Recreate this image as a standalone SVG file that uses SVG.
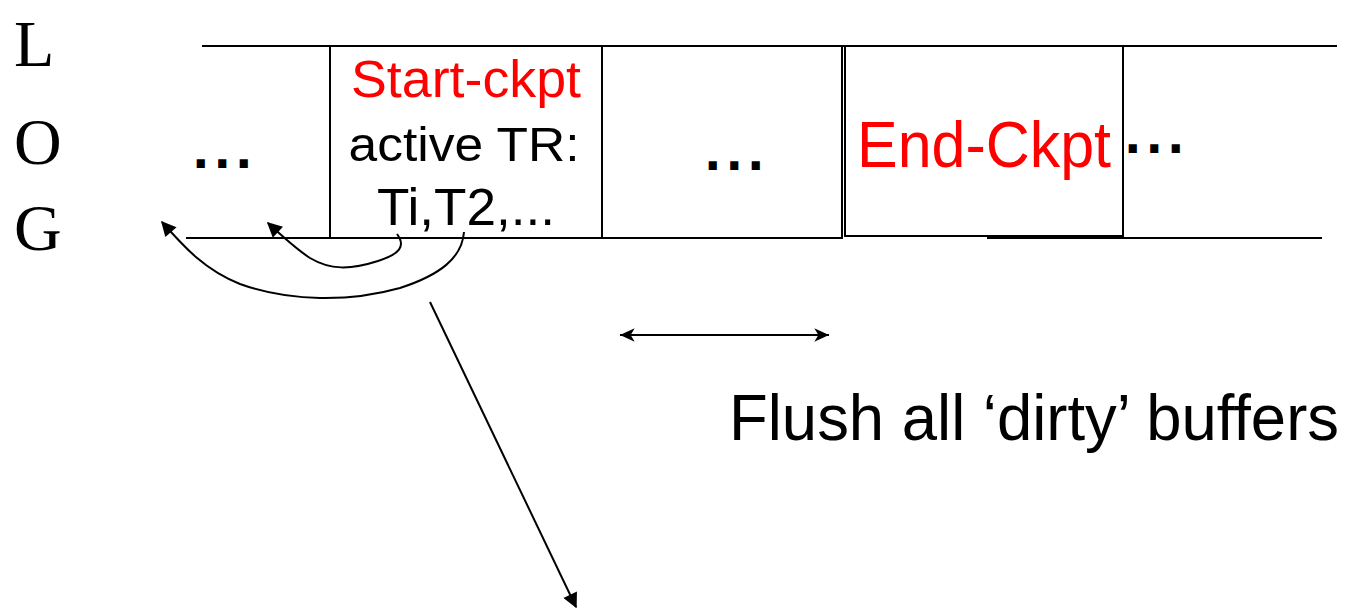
<svg xmlns="http://www.w3.org/2000/svg" width="1352" height="611" viewBox="0 0 1352 611">
<style>
.ln{stroke:#000;stroke-width:2;fill:none}
.txt{font-family:"Liberation Sans","DejaVu Sans",sans-serif;fill:#000}
.dots{font-family:"DejaVu Sans","Liberation Sans",sans-serif;font-weight:bold;font-size:46px;letter-spacing:4px;fill:#000}
.red{fill:#ff0000}
.serif{font-family:"Liberation Serif",serif;font-size:66px;fill:#000}
</style>
<defs>
<marker id="tri" viewBox="0 0 10 10" refX="9" refY="5" markerWidth="19" markerHeight="15" markerUnits="userSpaceOnUse" orient="auto">
<path d="M0,0 L10,5 L0,10 Z" fill="#000"/>
</marker>
<marker id="chev" viewBox="0 0 12 12" refX="11" refY="6" markerWidth="18" markerHeight="16" markerUnits="userSpaceOnUse" orient="auto-start-reverse">
<path d="M0,1 L11,6 L0,11 L3,6 Z" fill="#000"/>
</marker>
</defs>
<rect width="1352" height="611" fill="#fff"/>
<!-- side label -->
<g id="log-label">
<text class="serif" x="14" y="66">L</text>
<text class="serif" x="14" y="164">O</text>
<text class="serif" x="14" y="250">G</text>
</g>
<!-- log tape -->
<g id="tape">
<line class="ln" x1="202" y1="46" x2="1337" y2="46"/>
<line class="ln" x1="186" y1="238" x2="842" y2="238"/>
<line class="ln" x1="987" y1="238" x2="1322" y2="238"/>
</g>
<g id="cell-left">
<text class="dots" x="192" y="168">...</text>
</g>
<g id="cell-start">
<rect class="ln" x="330" y="46" width="272" height="192"/>
<text class="txt red" x="466" y="97" font-size="51" text-anchor="middle" textLength="230" lengthAdjust="spacingAndGlyphs">Start-ckpt</text>
<text class="txt" x="464" y="161" font-size="48" text-anchor="middle" textLength="231" lengthAdjust="spacingAndGlyphs">active TR:</text>
<text class="txt" x="466" y="225" font-size="51" text-anchor="middle" textLength="178" lengthAdjust="spacingAndGlyphs">Ti,T2,...</text>
</g>
<g id="cell-middle">
<rect class="ln" x="602" y="46" width="240" height="192"/>
<text class="dots" x="704" y="170">...</text>
</g>
<g id="cell-end">
<rect class="ln" x="845" y="46" width="278" height="190"/>
<text class="txt red" x="984" y="167" font-size="64" text-anchor="middle" textLength="254" lengthAdjust="spacingAndGlyphs">End-Ckpt</text>
<text class="dots" x="1124" y="153">...</text>
</g>
<g id="flush-label">
<text class="txt" x="729" y="440" font-size="64" textLength="610" lengthAdjust="spacingAndGlyphs">Flush all ‘dirty’ buffers</text>
</g>
<!-- connectors -->
<g id="connectors">
<path class="ln" d="M397,234 C406,246 400,254 378,261 C350,270 330,270 310,258 C296,249 282,236 268,223" marker-end="url(#tri)"/>
<path class="ln" d="M464,232 C462,258 440,275 400,288 C350,302 290,302 240,284 C205,270 185,248 162,222" marker-end="url(#tri)"/>
<line class="ln" x1="430" y1="302" x2="576" y2="607" marker-end="url(#tri)"/>
<line class="ln" x1="620" y1="335" x2="829" y2="335" stroke-width="3" marker-start="url(#chev)" marker-end="url(#chev)"/>
</g>
</svg>
